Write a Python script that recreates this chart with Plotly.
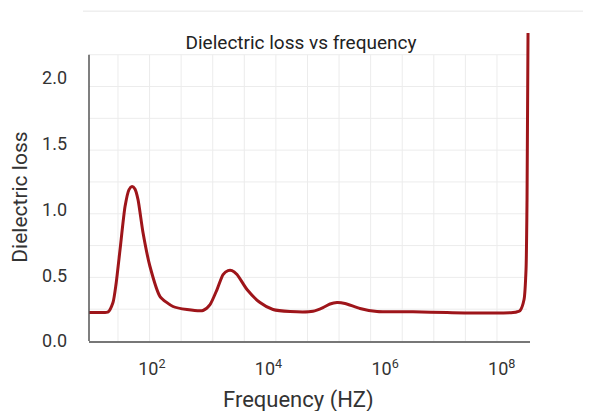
import plotly.graph_objects as go

# Frequency (Hz) and dielectric loss
freq_hz = [8.34, 12.9, 17.7, 21.5, 24.2, 28.4, 34.6, 40.5, 45.6, 51.3, 57.8, 70.3, 92.7,
           138, 230, 400, 752, 993, 1309, 1660, 2018, 2366, 2884, 4276, 7145, 11940,
           23390, 57940, 86100, 113500, 149600, 205100, 370700, 726100, 3.006e6,
           1.153e7, 1.563e8, 2.061e8, 2.415e8, 2.612e8, 2.716e8, 2.825e8]
loss = [0.216, 0.216, 0.220, 0.292, 0.429, 0.694, 1.021, 1.150, 1.173, 1.154, 1.074, 0.824, 0.566,
        0.338, 0.262, 0.239, 0.232, 0.277, 0.391, 0.505, 0.535, 0.535, 0.505, 0.391, 0.292, 0.239,
        0.224, 0.226, 0.254, 0.281, 0.292, 0.285, 0.247, 0.224, 0.222,
        0.216, 0.216, 0.231, 0.315, 0.543, 1.07, 2.34]

x_tick_vals = [1e2, 1e4, 1e6, 1e8]
x_tick_text = ["10<sup>2</sup>", "10<sup>4</sup>", "10<sup>6</sup>", "10<sup>8</sup>"]
y_tick_vals = [0, 0.5, 1.0, 1.5, 2.0]
y_tick_text = ["0.0", "0.5", "1.0", "1.5", "2.0"]

W, H = 591, 411
OFF = 8  # page body margin offset
L, R, T, B = 89 - OFF, 61 + OFF, 33 - OFF, 69.5 + OFF

fig = go.Figure()
fig.add_trace(go.Scatter(
    x=freq_hz, y=loss, mode="lines",
    line=dict(color="#9e151a", width=3, shape="spline", smoothing=0.6),
    hoverinfo="skip", showlegend=False,
))

grid_top = 2.175
shapes = []
# vertical gridlines (log10 positions)
for k in range(13):
    lv = 1.418 + 0.5417 * k
    shapes.append(dict(type="line", xref="x", yref="y", x0=10 ** lv, x1=10 ** lv,
                       y0=0, y1=grid_top, line=dict(color="#ececec", width=1), layer="below"))
# horizontal gridlines
for k in range(1, 10):
    yv = grid_top / 9 * k
    shapes.append(dict(type="line", xref="paper", yref="y", x0=0, x1=0.993,
                       y0=yv, y1=yv, line=dict(color="#ececec", width=1), layer="below"))
# left axis line
shapes.append(dict(type="line", xref="paper", yref="y", x0=0, x1=0, y0=0, y1=grid_top,
                   line=dict(color="#555555", width=1.5)))
# faint top border
shapes.append(dict(type="line", xref="paper", yref="paper", x0=-0.0136, x1=1.2,
                   y0=1.071, y1=1.071, line=dict(color="#e6e6e6", width=1)))

fig.update_layout(
    width=W, height=H,
    margin=dict(l=L, r=R, t=T, b=B, pad=0),
    paper_bgcolor="white", plot_bgcolor="white",
    font=dict(family="Roboto", color="#333333"),
    title=dict(text="Dielectric loss vs frequency", x=(301 - OFF) / W, xanchor="center",
               y=1 - (42 - OFF) / H, yanchor="middle", yref="container",
               font=dict(family="Roboto", size=19, color="#222222")),
    shapes=shapes,
    xaxis=dict(type="log", range=[0.921, 8.485], showgrid=False, zeroline=False,
               showline=True, linecolor="#777777", linewidth=1.5,
               tickmode="array", tickvals=x_tick_vals, ticktext=x_tick_text,
               ticks="", ticklabelstandoff=11,
               tickfont=dict(family="Roboto", size=18, color="#333333")),
    yaxis=dict(range=[0, 2.34], showgrid=False, zeroline=False, showline=False,
               tickmode="array", tickvals=y_tick_vals, ticktext=y_tick_text,
               ticks="", ticklabelstandoff=21,
               tickfont=dict(family="Roboto", size=18, color="#333333")),
    annotations=[
        dict(text="Dielectric loss", xref="paper", yref="paper",
             x=(20 - 89) / (W - L - R), y=(341.5 - 198) / (H - T - B),
             xanchor="center", yanchor="middle", textangle=-90, showarrow=False,
             font=dict(family="Roboto", size=21, color="#333333")),
        dict(text="Frequency (HZ)", xref="paper", yref="paper",
             x=(298 - 89) / (W - L - R), y=(341.5 - 386) / (H - T - B),
             xanchor="center", yanchor="top", showarrow=False,
             font=dict(family="Roboto", size=22, color="#333333")),
    ],
)

fig.write_html("out.html")
